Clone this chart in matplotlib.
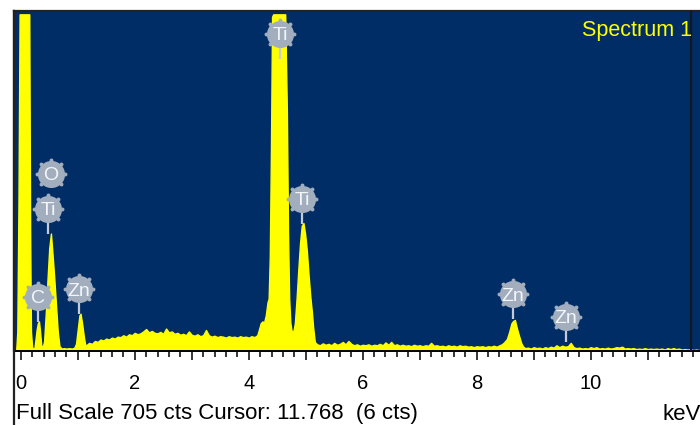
import numpy as np
import matplotlib
matplotlib.use("Agg")
import matplotlib.pyplot as plt
from matplotlib.ticker import MultipleLocator, FuncFormatter
from matplotlib.lines import Line2D

plt.rcParams['font.family'] = ['Liberation Sans', 'DejaVu Sans']

# ---------------- data ----------------
FULL_SCALE = 705          # cts
CURSOR_KEV = 11.768

zero_kev = [-0.08, -0.06, -0.04, -0.02, 0.00, 0.05, 0.10, 0.13, 0.15, 0.165, 0.18, 0.20, 0.22, 0.24]
zero_cts = [0, 40, 300, 800, 2000, 3000, 2500, 1200, 760, 250, 40, 8, 5, 6]

c_kev = [0.26, 0.28, 0.30, 0.32, 0.34, 0.36, 0.385]
c_cts = [25, 45, 58, 62, 40, 12, 8]

tio_kev = [0.41, 0.44, 0.47, 0.50, 0.53, 0.56, 0.59, 0.62, 0.65, 0.68, 0.72, 0.76, 0.80, 0.85, 0.90, 0.94]
tio_cts = [20, 80, 150, 215, 246, 200, 150, 95, 40, 10, 5, 6, 5, 6, 5, 7]

znl_kev = [0.97, 1.00, 1.03, 1.05, 1.08, 1.11, 1.13]
znl_cts = [15, 45, 75, 78, 55, 28, 14]

bg1_kev = [1.15, 1.20, 1.25, 1.30, 1.35, 1.40, 1.45, 1.50, 1.55, 1.60, 1.65, 1.70, 1.75, 1.80,
           1.85, 1.90, 1.95, 2.00, 2.05, 2.10, 2.15, 2.20, 2.25, 2.30, 2.35, 2.40, 2.45, 2.50,
           2.55, 2.60, 2.65, 2.70, 2.75, 2.80, 2.85, 2.90, 2.95, 3.00, 3.05, 3.10, 3.15, 3.20,
           3.25, 3.30, 3.35, 3.40, 3.45, 3.50, 3.55, 3.60, 3.65, 3.70, 3.75, 3.80, 3.85, 3.90,
           3.95, 4.00, 4.05, 4.10, 4.15]
bg1_cts = [12, 17, 15, 21, 19, 24, 22, 26, 24, 28, 26, 30, 29, 33,
           30, 35, 33, 38, 35, 37, 41, 46, 39, 42, 38, 37, 40, 36,
           47, 39, 41, 36, 38, 34, 36, 33, 41, 34, 32, 35, 31, 33,
           44, 33, 30, 32, 29, 31, 30, 28, 31, 29, 30, 28, 31, 29,
           30, 28, 31, 29, 33]

tik_kev = [4.18, 4.21, 4.24, 4.27, 4.30, 4.33, 4.35, 4.37, 4.39, 4.41, 4.43, 4.47, 4.52, 4.57,
           4.61, 4.64, 4.67, 4.69, 4.71, 4.73, 4.75, 4.77, 4.79, 4.81, 4.84, 4.87, 4.90, 4.93,
           4.96, 4.99, 5.02, 5.05, 5.08, 5.11, 5.13, 5.16]
tik_cts = [45, 58, 62, 60, 75, 102, 110, 200, 420, 700, 1000, 1400, 1550, 1450,
           1100, 800, 500, 250, 110, 60, 44, 38, 45, 59, 110, 170, 225, 262,
           268, 245, 210, 160, 115, 80, 50, 19]

bg2_kev = [5.20, 5.25, 5.30, 5.35, 5.40, 5.45, 5.50, 5.55, 5.60, 5.65, 5.70, 5.75, 5.80, 5.85,
           5.90, 5.95, 6.00, 6.05, 6.10, 6.15, 6.20, 6.25, 6.30, 6.35, 6.40, 6.45, 6.50, 6.55,
           6.60, 6.65, 6.70, 6.75, 6.80, 6.85, 6.90, 6.95, 7.00, 7.05, 7.10, 7.15, 7.20, 7.25,
           7.30, 7.35, 7.40, 7.45, 7.50, 7.55, 7.60, 7.65, 7.70, 7.75, 7.80, 7.85, 7.90, 7.95,
           8.00, 8.05, 8.10, 8.15, 8.20, 8.25, 8.30, 8.35, 8.40]
bg2_cts = [14, 12, 16, 13, 15, 12, 17, 13, 15, 19, 14, 21, 15, 12,
           14, 11, 13, 12, 14, 11, 13, 12, 15, 12, 18, 13, 19, 12,
           14, 11, 13, 11, 12, 10, 13, 11, 12, 10, 12, 11, 17, 11,
           12, 10, 11, 9, 12, 10, 11, 9, 12, 10, 11, 9, 10, 8,
           10, 9, 10, 8, 10, 9, 11, 9, 12]

znk_kev = [8.44, 8.48, 8.53, 8.57, 8.61, 8.64, 8.67, 8.70, 8.73, 8.76, 8.78, 8.81, 8.85]
znk_cts = [14, 18, 25, 40, 58, 63, 65, 50, 37, 25, 17, 10, 6]

bg3_kev = [8.90, 8.95, 9.00, 9.05, 9.10, 9.15, 9.20, 9.25, 9.30, 9.35, 9.40, 9.45, 9.50, 9.55,
           9.60, 9.65, 9.70, 9.75, 9.80, 9.85, 9.90, 9.95, 10.00, 10.05, 10.10, 10.15, 10.20,
           10.25, 10.30, 10.35, 10.40, 10.45, 10.50, 10.55, 10.60, 10.65, 10.70, 10.75, 10.80,
           10.85, 10.90, 10.95, 11.00, 11.05, 11.10, 11.15, 11.20, 11.25, 11.30, 11.35, 11.40,
           11.45, 11.50, 11.55, 11.60, 11.65, 11.70, 11.75, 11.80, 11.85, 11.90]
bg3_cts = [7, 5, 8, 6, 7, 5, 8, 6, 9, 7, 12, 8, 11, 9,
           10, 17, 8, 6, 7, 5, 6, 5, 8, 6, 8, 5, 6,
           5, 7, 5, 6, 8, 7, 9, 5, 6, 5, 6, 4,
           5, 4, 6, 4, 5, 4, 5, 4, 5, 3, 6, 4,
           6, 4, 5, 3, 4, 3, 4, 2, 3, 2]

# element markers: name, energy (keV), peak anchor (cts), stacking level
label_names = ["O", "Ti", "C", "Zn", "Ti", "Ti", "Zn", "Zn"]
label_kev = [0.525, 0.48, 0.30, 1.02, 4.55, 4.94, 8.64, 9.57]
label_cts = [246, 246, 61, 77, 612, 267, 67, 19]
label_stack = [1, 0, 0, 0, 0, 0, 0, 0]

xtick_major = 1.0
xtick_minor = 0.2

# ---------------- figure ----------------
W, H = 700, 425
fig = plt.figure(figsize=(W / 100, H / 100), dpi=100)
fig.patch.set_facecolor('white')

ax_left, ax_top, ax_bottom, ax_right = 14, 11, 351, 700
ax = fig.add_axes([ax_left / W, 1 - ax_bottom / H, (ax_right - ax_left) / W, (ax_bottom - ax_top) / H])
navy = '#012D67'
ax.set_facecolor(navy)

energy = np.array(zero_kev + c_kev + tio_kev + znl_kev + bg1_kev + tik_kev + bg2_kev + znk_kev + bg3_kev)
counts = np.array(zero_cts + c_cts + tio_cts + znl_cts + bg1_cts + tik_cts + bg2_cts + znk_cts + bg3_cts, dtype=float)
shown = np.minimum(counts, FULL_SCALE)

ax.fill_between(energy, 0, shown, color='#FFFF00', edgecolor='#FFFF00', lw=1.0, zorder=2)

xmin, xmax = -0.118, 11.918
ymax = 712
ax.set_xlim(xmin, xmax)
ax.set_ylim(0, ymax)

kev_per_px = (xmax - xmin) / (ax_right - ax_left)
cts_per_px = ymax / (ax_bottom - ax_top)

# cursor
ax.axvline(CURSOR_KEV, color='#101820', lw=1.6, zorder=6)

# element badges
badge_col = '#A2AEBD'
stem_col = '#C3CCD6'
for name, ek, ct, st in zip(label_names, label_kev, label_cts, label_stack):
    cy = ct + (25 + 35 * st) * cts_per_px
    if st == 0:
        ax.plot([ek, ek], [ct, cy], color=stem_col, lw=1.6, zorder=3, solid_capstyle='butt')
    ax.plot([ek], [cy], marker='o', ms=19.5, mfc=badge_col, mec='none', zorder=4)
    for dx, dy in [(0, 14), (14, 0), (-14, 0), (10, 10), (-10, 10), (10, -10), (-10, -10)]:
        ax.plot([ek + dx * kev_per_px], [cy + dy * cts_per_px], marker='o', ms=2.8,
                mfc=badge_col, mec='none', zorder=4)
    ax.text(ek, cy, name, color='#F2F6FA', fontsize=14, ha='center', va='center_baseline', zorder=5)

# axes styling
ax.spines['right'].set_visible(False)
ax.spines['top'].set_color('#222222')
ax.spines['top'].set_linewidth(1.6)
ax.spines['left'].set_color('#222222')
ax.spines['left'].set_linewidth(1.6)
ax.spines['bottom'].set_color('#000000')
ax.spines['bottom'].set_linewidth(1.4)

ax.yaxis.set_visible(False)
ax.xaxis.set_major_locator(MultipleLocator(xtick_major))
ax.xaxis.set_minor_locator(MultipleLocator(xtick_minor))
ax.xaxis.set_major_formatter(FuncFormatter(lambda v, p: f'{v:.0f}' if int(round(v)) % 2 == 0 else ''))
ax.tick_params(axis='x', which='major', direction='out', length=6.5, width=1.1, color='black',
               labelsize=14.5, pad=10, labelcolor='black')
ax.tick_params(axis='x', which='minor', direction='out', length=4, width=1.1, color='black')

# frame line continuing down the left edge
fig.add_artist(Line2D([ax_left / W, ax_left / W], [0, 1 - ax_top / H], color='#222222', lw=1.6,
                      transform=fig.transFigure))

# texts
fig.text(16 / W, 1 - 419.5 / H, 'Full Scale 705 cts Cursor: 11.768  (6 cts)', fontsize=16,
         color='black', ha='left', va='baseline')
fig.text(662 / W, 1 - 419.5 / H, 'keV', fontsize=16, color='black', ha='left', va='baseline')
fig.text(692 / W, 1 - 36 / H, 'Spectrum 1', fontsize=15.5, color='#FFFF00', ha='right', va='baseline')

fig.savefig('out.png', dpi=100)
